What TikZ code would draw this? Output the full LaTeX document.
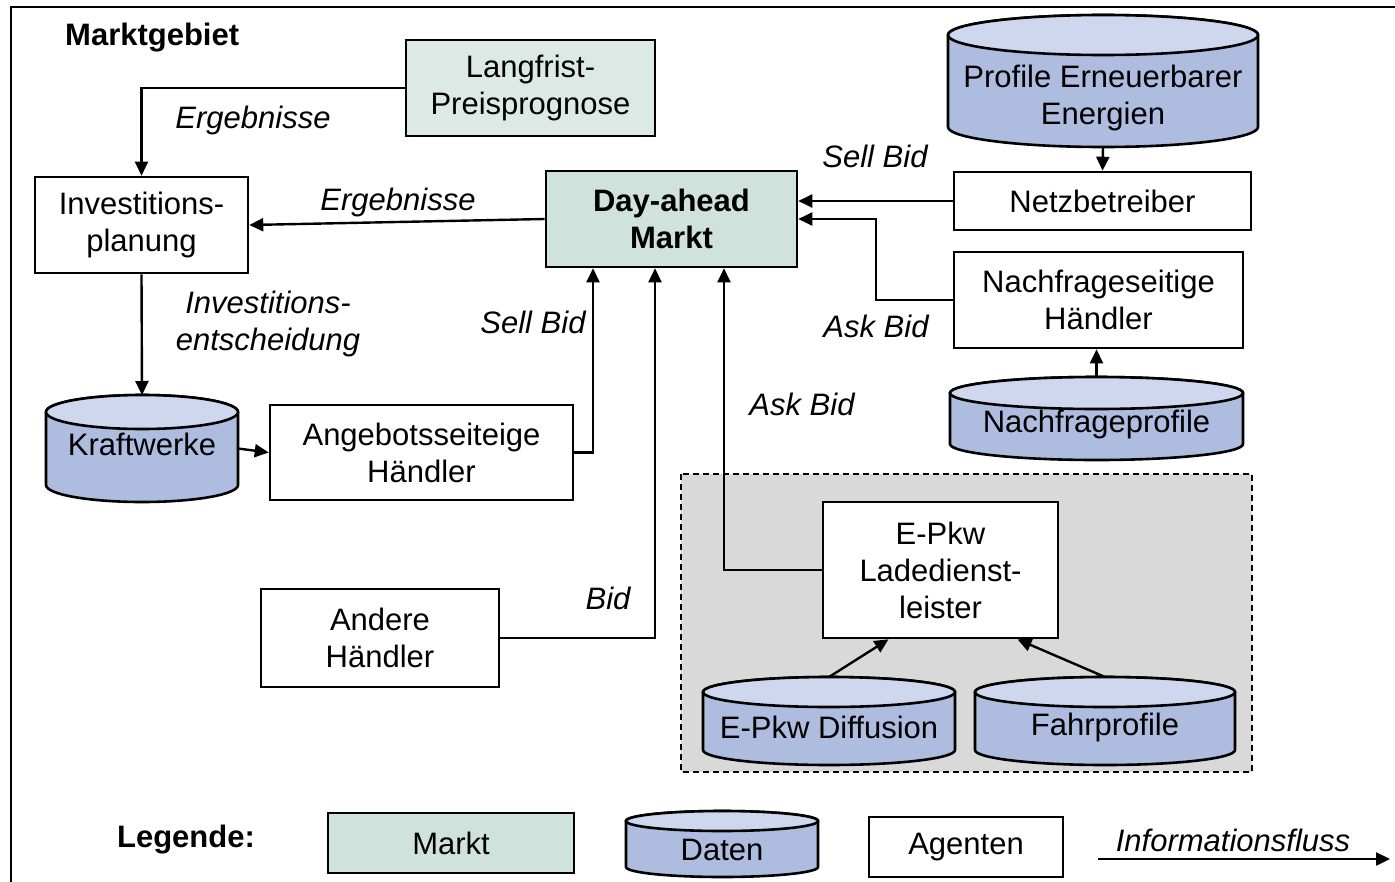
\documentclass[tikz,border=0pt]{standalone}
\usepackage{fontspec}
\setmainfont{Liberation Sans}
\usetikzlibrary{arrows.meta,fit,calc}
\definecolor{marktfill}{HTML}{CFE2DC}
\definecolor{langfill}{HTML}{DCE9E5}
\definecolor{cylbody}{HTML}{AEBCE0}
\definecolor{cyltop}{HTML}{CED7EE}
\definecolor{grayreg}{HTML}{D9D9D9}
\newcommand\fs{\fontsize{31}{37}\selectfont}
\tikzset{
  box/.style={draw, line width=2.6pt, fill=white, inner sep=0pt, align=center, font=\fs},
  marktbox/.style={box, fill=marktfill},
  cylline/.style={line width=2.6pt},
  arr/.style={line width=2.4pt, -{Triangle[length=14pt,width=13pt]}},
  lbl/.style={font=\fs\itshape, inner sep=0pt, align=center},
  txt/.style={font=\fs, inner sep=0pt, align=center},
  bold/.style={font=\fs\bfseries, inner sep=0pt, align=center},
  region/.style={fill=grayreg, draw, line width=1.6pt, dash pattern=on 6pt off 4pt},
}
% name, x1, ytop, x2, ybottom, rx, ry
\newcommand\dbcyl[7]{%
  \filldraw[cylline, fill=cylbody] (#2,{#3+#7}) -- (#2,{#5-#7})
     arc[start angle=180,end angle=360,x radius=#6pt,y radius=#7pt]
     -- (#4,{#3+#7})
     arc[start angle=0,end angle=180,x radius=#6pt,y radius=#7pt] -- cycle;
  \filldraw[cylline, fill=cyltop] ({(#2+#4)/2},{#3+#7}) ellipse[x radius=#6pt,y radius=#7pt];
  \coordinate (#1-nw) at (#2,#3);
  \coordinate (#1-se) at (#4,#5);
  \node[fit=(#1-nw)(#1-se), inner sep=0pt, outer sep=0pt] (#1) {};
}
\begin{document}
\begin{tikzpicture}[x=1pt,y=-1pt]
\useasboundingbox (0,0) rectangle (1395,881);
\clip (0,0) rectangle (1395,881);
\fill[white] (0,0) rectangle (1395,881);
% frame
\draw[line width=2.8pt] (11,900) -- (11,7) -- (1420,7);
\node[bold, anchor=west] (title) at (65,38) {Marktgebiet};

% grey region
\path[region] (681,474) rectangle (1252,772);

% boxes
\node[box, fill=langfill, minimum width=249pt, minimum height=96pt] (lang) at (530.5,88) {Langfrist-\\Preisprognose};
\node[box, minimum width=213pt, minimum height=96pt] (inv) at (141.5,225) {Investitions-\\planung};
\node[marktbox, font=\fs\bfseries, minimum width=251pt, minimum height=96pt] (dam) at (671.5,219) {Day-ahead\\Markt};
\node[box, minimum width=303pt, minimum height=95pt] (ang) at (421.5,452.5) {Angebotsseiteige\\Händler};
\node[box, minimum width=238pt, minimum height=98pt] (and) at (380,638) {Andere\\Händler};
\node[box, minimum width=297pt, minimum height=58pt] (netz) at (1102.5,201) {Netzbetreiber};
\node[box, minimum width=289pt, minimum height=96pt] (nach) at (1098.5,300) {Nachfrageseitige\\Händler};
\node[box, minimum width=235pt, minimum height=136pt] (epkw) at (940.5,570) {E-Pkw\\Ladedienst-\\leister};

% cylinders
\dbcyl{kraft}{46}{395}{238}{502}{96}{17}
\node[txt] (kraftT) at (142,444) {Kraftwerke};
\dbcyl{prof}{948}{15}{1258}{147}{155}{20}
\node[txt] (profT) at (1103,98) {Profile Erneuerbarer\\Energien};
\dbcyl{nprof}{950}{377}{1243}{460}{146.5}{16}
\node[txt] (nprofT) at (1096.5,424) {Nachfrageprofile};
\dbcyl{diff}{703}{677}{955}{765}{126}{15}
\node[txt] (diffT) at (829,727) {E-Pkw Diffusion};
\dbcyl{fahr}{975}{677}{1235}{765}{130}{15}
\node[txt] (fahrT) at (1105,727) {Fahrprofile};

% helper coordinates for bends
\coordinate (xa) at (593,0);
\coordinate (xb) at (655,0);
\coordinate (xc) at (724,0);
\coordinate (bend) at (876,219);

% connectors
\draw[arr] (lang.west) -| (inv.north);
\draw[arr] (dam.west) -- (inv.east);
\draw[arr] (inv.south) -- (kraft.north);
\draw[arr] (kraft.east) -- (ang.west);
\draw[arr] (ang.east) -| (dam.south -| xa);
\draw[arr] (and.east) -| (dam.south -| xb);
\draw[arr] (epkw.west) -| (dam.south -| xc);
\draw[arr] (netz.west) -- (dam.east |- netz.west);
\draw[arr] (nach.west) -| (bend) -- (dam.east |- bend);
\draw[arr] (prof.south) -- (netz.north);
\draw[arr] (nprof.north) -- (nach.south -| nprof.north);
\draw[arr] (diff.north) -- ($(epkw.south)+(-52,0)$);
\draw[arr] (fahr.north) -- ($(epkw.south)+(77,0)$);

% labels
\node[lbl] (l1) at (253,120) {Ergebnisse};
\node[lbl] (l2) at (398,202) {Ergebnisse};
\node[lbl] (l3) at (268,324) {Investitions-\\entscheidung};
\node[lbl] (l4) at (533,322) {Sell Bid};
\node[lbl] (l5) at (608,598) {Bid};
\node[lbl] (l6) at (802,404) {Ask Bid};
\node[lbl] (l7) at (875,156) {Sell Bid};
\node[lbl] (l8) at (876,326) {Ask Bid};

% legend
\node[bold] (leg) at (186,840) {Legende:};
\node[marktbox, minimum width=246pt, minimum height=60pt] (legM) at (451,843) {Markt};
\dbcyl{legD}{626}{811}{818}{877}{96}{10}
\node[txt] (legDT) at (722,850) {Daten};
\node[box, minimum width=194pt, minimum height=60pt] (legA) at (966,847) {Agenten};
\coordinate (legS) at (1098,859);
\coordinate (legE) at (1390,859);
\draw[arr] (legS) -- (legE);
\node[lbl] (legI) at (1233,840) {Informationsfluss};
\end{tikzpicture}
\end{document}
